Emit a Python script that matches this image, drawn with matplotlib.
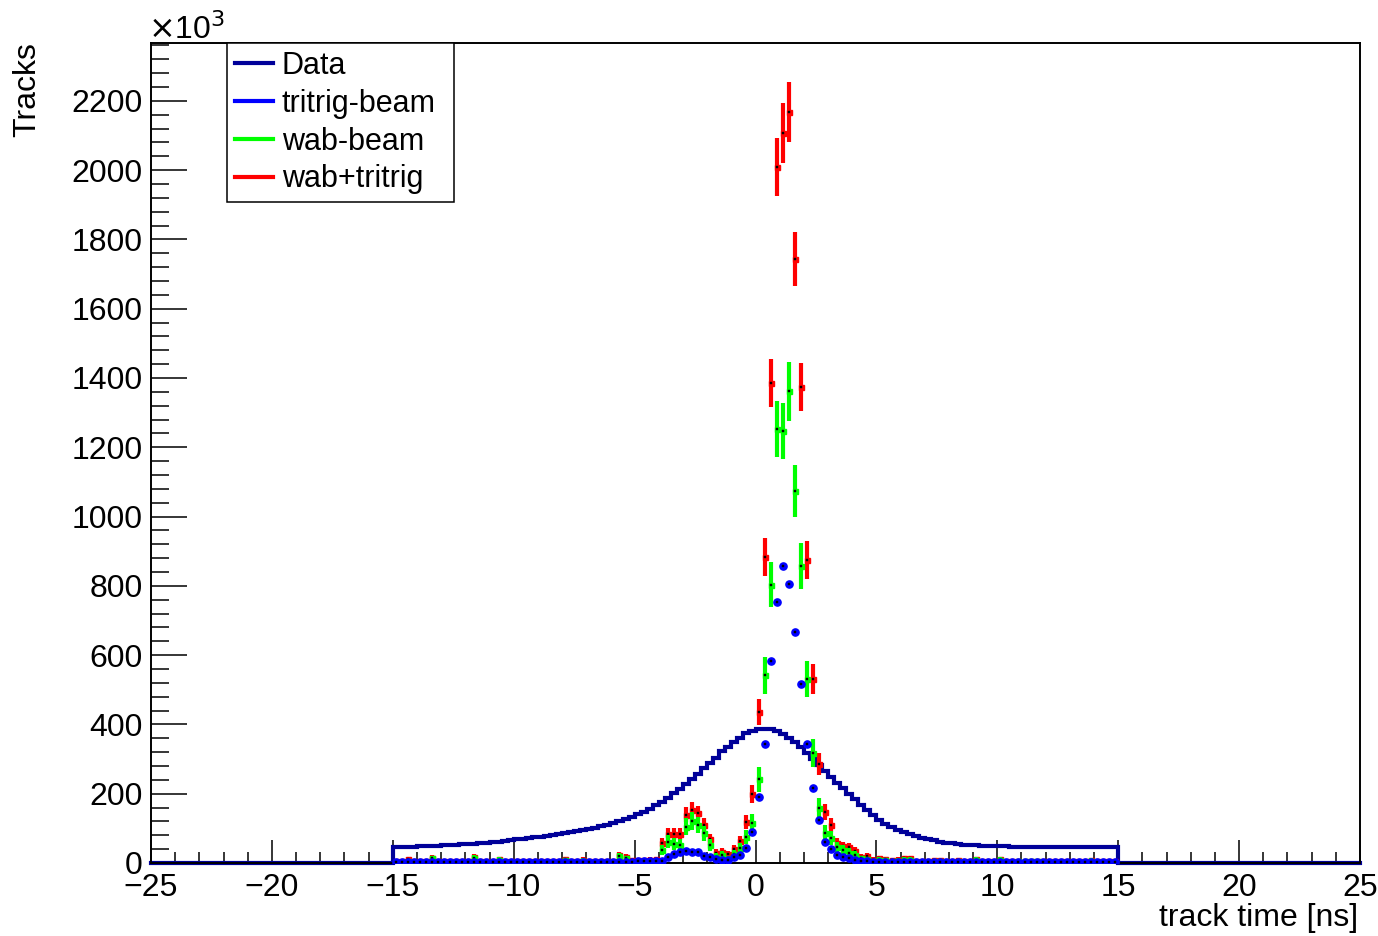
"""Track time: data vs. tritrig / wab MC (ROOT-style histogram)."""
import numpy as np
import matplotlib

matplotlib.use("Agg")
import matplotlib.pyplot as plt
from matplotlib.lines import Line2D

NAVY, BLUE, GREEN, RED = "#000099", "#0000ff", "#00ff00", "#ff0000"

plt.rcParams.update({
    "font.family": ["Liberation Sans", "DejaVu Sans"],
    "font.size": 23,
    "axes.linewidth": 1.4,
})

# 0.25 ns bins from -15 to 15 ns, counts in units of 10^3 tracks
T_LO, T_HI, N_BINS = -15.0, 15.0, 120

data_k = [
    45, 46, 46, 47, 48, 48, 49, 50, 51, 52,
    53, 54, 55, 56, 57, 59, 60, 62, 64, 66,
    68, 70, 72, 74, 76, 78, 81, 84, 87, 90,
    93, 96, 99, 102, 106, 110, 115, 120, 126, 133,
    140, 148, 157, 166, 177, 189, 201, 214, 228, 243,
    258, 273, 288, 303, 322, 336, 348, 362, 374, 382,
    386, 388, 386, 380, 372, 362, 350, 336, 318, 300,
    283, 266, 249, 232, 216, 200, 184, 168, 153, 138,
    125, 113, 103, 95, 89, 83, 78, 73, 69, 65,
    62, 59, 57, 55, 53, 52, 51, 50, 49, 49,
    48, 48, 47, 47, 47, 46, 46, 46, 46, 46,
    46, 45, 45, 45, 45, 45, 45, 45, 45, 45,
]

tritrig_k = [
    2, 2, 2, 2, 2, 2, 2, 2, 2, 2,
    2, 2, 2, 2, 2, 2, 2, 2, 2, 2,
    2, 2, 2, 2, 2, 3, 3, 3, 3, 3,
    3, 3, 3, 3, 3, 3, 3, 3, 4, 4,
    5, 6, 7, 7, 7, 16, 26, 33, 34, 33,
    32, 21, 18, 12, 10, 10, 16, 23, 44, 89,
    191, 343, 582, 754, 857, 805, 668, 517, 343, 217,
    124, 61, 40, 23, 16, 13, 10, 7, 5, 4,
    4, 4, 3, 3, 3, 3, 3, 3, 3, 3,
    2, 2, 2, 2, 2, 2, 2, 2, 2, 2,
    2, 2, 2, 2, 2, 2, 2, 2, 2, 2,
    2, 2, 2, 2, 2, 2, 2, 2, 2, 2,
]

wab_k = [
    3, 3, 6, 3, 3, 3, 13, 3, 3, 3,
    3, 3, 3, 15, 3, 3, 3, 10, 3, 3,
    3, 3, 3, 3, 3, 3, 3, 3, 8, 3,
    3, 7, 3, 3, 3, 3, 3, 20, 13, 4,
    3, 3, 4, 6, 37, 62, 54, 52, 105, 122,
    110, 86, 52, 18, 23, 13, 26, 42, 75, 116,
    242, 542, 803, 1253, 1248, 1362, 1074, 857, 531, 317,
    158, 88, 72, 45, 37, 30, 24, 13, 11, 6,
    9, 8, 5, 7, 10, 10, 4, 4, 4, 6,
    6, 4, 4, 6, 4, 4, 10, 4, 4, 4,
    10, 4, 4, 5, 5, 5, 5, 4, 4, 4,
    4, 4, 4, 4, 4, 7, 4, 4, 4, 4,
]

wab_tritrig_k = [
    5, 5, 11, 5, 5, 5, 15, 5, 5, 5,
    5, 5, 5, 17, 5, 5, 5, 12, 5, 5,
    5, 5, 5, 5, 5, 6, 6, 6, 11, 6,
    6, 10, 6, 6, 6, 6, 6, 22, 17, 8,
    8, 9, 10, 12, 57, 83, 83, 83, 139, 153,
    143, 110, 68, 30, 33, 26, 40, 64, 118, 200,
    436, 884, 1386, 2008, 2107, 2167, 1744, 1374, 875, 531,
    285, 147, 110, 58, 49, 45, 36, 18, 21, 10,
    14, 12, 8, 10, 14, 14, 7, 7, 7, 9,
    9, 6, 6, 9, 6, 6, 12, 6, 6, 6,
    12, 6, 6, 7, 7, 7, 7, 6, 6, 6,
    6, 6, 6, 6, 6, 9, 6, 6, 6, 6,
]

# MC statistical error scale (error = scale * sqrt(count))
ERR_SCALE = {"tritrig": 0.34, "wab": 2.3, "wab_tritrig": 1.86}


def main():
    edges = np.linspace(T_LO, T_HI, N_BINS + 1)
    centers = 0.5 * (edges[:-1] + edges[1:])
    data = np.asarray(data_k, float)

    fig = plt.figure(figsize=(13.78, 9.36), dpi=100)
    ax = fig.add_axes([151 / 1378, 1 - 863 / 936, 1209 / 1378, 820 / 936])

    # data histogram, zero outside [-15, 15]
    ax.stairs(data, edges, baseline=0, color=NAVY, lw=3.0, zorder=2)
    ax.plot([-25, T_LO], [0, 0], color=NAVY, lw=3.0, clip_on=False, zorder=2)
    ax.plot([T_HI, 25], [0, 0], color=NAVY, lw=3.0, clip_on=False, zorder=2)

    series = [
        (wab_tritrig_k, RED, "wab_tritrig", 3),
        (wab_k, GREEN, "wab", 4),
        (tritrig_k, BLUE, "tritrig", 5),
    ]
    for vals, col, key, z in series:
        v = np.asarray(vals, float)
        err = ERR_SCALE[key] * np.sqrt(v)
        ax.errorbar(centers, v, yerr=err, fmt="none", ecolor=col, elinewidth=3.0,
                    capsize=0, zorder=z)
        if key == "tritrig":
            ax.plot(centers, v, ls="none", marker="o", ms=5.2, mfc=col, mec=col,
                    zorder=z + 0.2)
        else:
            ax.plot(centers, v, ls="none", marker="s", ms=3.6, mfc=col, mec=col,
                    zorder=z + 0.2)
        ax.plot(centers, v, ls="none", marker="s", ms=1.6, mfc="black", mec="black",
                mew=0.3, zorder=z + 0.4)

    ax.set_xlim(-25, 25)
    ax.set_ylim(0, 2367)
    ax.set_xticks(np.arange(-25, 26, 5))
    ax.set_xticks(np.arange(-25, 26, 1), minor=True)
    ax.set_yticks(np.arange(0, 2201, 200))
    ax.set_yticks(np.arange(0, 2361, 40), minor=True)
    ax.tick_params(axis="x", which="major", direction="in", length=16.5, width=1.1, pad=7)
    ax.tick_params(axis="x", which="minor", direction="in", length=8, width=1.1)
    ax.tick_params(axis="y", which="major", direction="in", length=26, width=1.1, pad=6)
    ax.tick_params(axis="y", which="minor", direction="in", length=13, width=1.1)

    fig.text(148 / 1378, 1 - 30 / 936, r"$\times$10$^{3}$", ha="left", va="center",
             fontsize=23)
    fig.text(27 / 1378, 1 - 42 / 936, "Tracks", rotation=90, ha="center", va="top")
    fig.text(1358 / 1378, 1 - 918 / 936, "track time [ns]", ha="right", va="center")

    handles = [Line2D([], [], color=c, lw=3.0) for c in (NAVY, BLUE, GREEN, RED)]
    labels = ["Data", "tritrig-beam", "wab-beam", "wab+tritrig"]
    x0 = (227 - 151) / 1209
    w = (454 - 227) / 1209
    leg = ax.legend(handles, labels, loc="upper left", mode="expand",
                    bbox_to_anchor=(x0, 0.5, w, 0.5), fontsize=22,
                    frameon=True, fancybox=False, edgecolor="black", framealpha=1,
                    borderpad=0.25, labelspacing=0.26, handlelength=1.25,
                    handletextpad=0.3, borderaxespad=0)
    leg.get_frame().set_linewidth(1.1)

    fig.savefig("out.png", dpi=100)
    plt.close(fig)


if __name__ == "__main__":
    main()
